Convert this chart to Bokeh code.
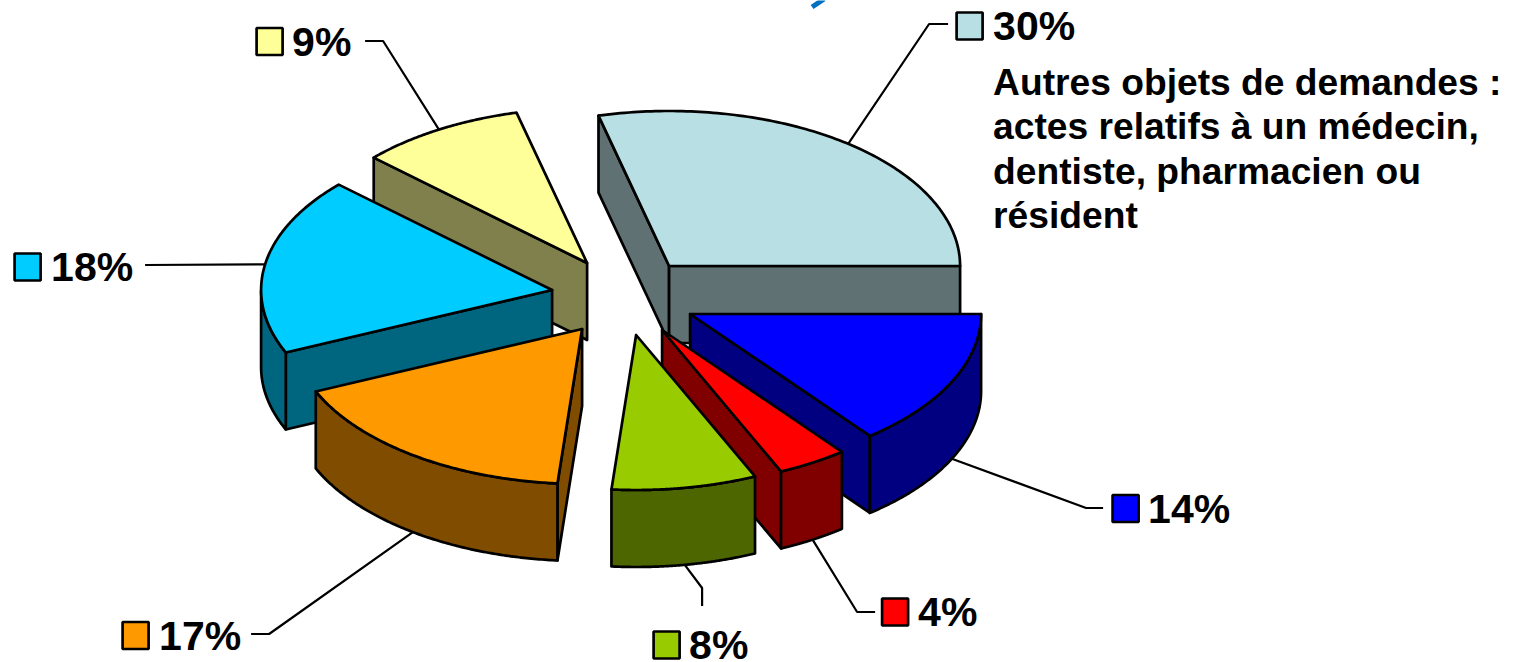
import numpy as np
from bokeh.plotting import figure
from bokeh.models import Range1d
from bokeh.core.properties import value
from bokeh.embed import file_html
from bokeh.resources import INLINE

# --- data (order: clockwise from the east edge, beginning with the 14% slice) ---
labels = ["14%", "4%", "8%", "17%", "18%", "9%", "30%"]
shares = [14.4, 3.9, 8.05, 17.05, 18.5, 9.2, 28.9]
top_colors = ["#0000FF", "#FF0000", "#99CC00", "#FF9900", "#00CCFF", "#FFFF99", "#B8DFE3"]
side_colors = ["#000080", "#800000", "#4D6600", "#804D00", "#006680", "#80804D", "#5F7173"]
note_lines = ["Autres objets de demandes :", "actes relatifs à un médecin,",
              "dentiste, pharmacien ou", "résident"]

# --- layout (pixels in the picture) ---
W, H = 1517, 662
RX, RY, DEPTH = 291, 155, 77
apex = [(690, 314), (662, 330), (636, 335), (582, 329), (552, 290), (587, 263), (669, 266)]
swatch = [(1125.5, 508.5), (895, 612), (666.5, 645), (135.5, 635.5), (27.5, 267), (269.5, 41.5), (969.5, 26)]
text_x = [1148, 918, 689, 159, 51, 292, 993]
elbow = [[(1086, 508), (1103, 508)], [(857, 612), (875, 612)], [(702, 588), (702, 606)],
         [(269, 634), (251, 634)], [(145, 265)], [(383, 41), (365, 41)], [(929, 24), (948, 24)]]
paint_order = [6, 5, 4, 3, 0, 1, 2]
LW = 2.7
INK = "#000000"

p = figure(width=W, height=H, x_range=Range1d(0.4, W + 0.4), y_range=Range1d(H + 0.5, 0.5),
           output_backend="svg", toolbar_location=None, min_border=0,
           outline_line_color=None, border_fill_color="white", background_fill_color="white")
p.axis.visible = False
p.grid.visible = False
p.styles = {"position": "absolute", "left": "0px", "top": "0px"}

# slice boundaries, in degrees, going clockwise from east
ends = -np.cumsum(shares) * 3.6
starts = np.concatenate([[0.0], ends[:-1]])


def rim(cx, cy, t):
    r = np.radians(t)
    return cx + RX * np.cos(r), cy - RY * np.sin(r)


def leader_start(i):
    mid = (starts[i] + ends[i]) / 2
    x, y = rim(*apex[i], mid)
    return x, y + (DEPTH if np.sin(np.radians(mid)) < -0.05 else 0)


# leaders go beneath the pie
for i in range(len(labels)):
    x0, y0 = leader_start(i)
    xs = [x0] + [e[0] for e in elbow[i]]
    ys = [y0] + [e[1] for e in elbow[i]]
    p.line(xs, ys, line_color=INK, line_width=2.2)

for i in paint_order:
    cx, cy = apex[i]
    t_cw, t_ccw = ends[i], starts[i]
    side = dict(fill_color=side_colors[i], line_color=INK, line_width=LW, line_join="round")
    # radial walls facing the viewer
    for t, visible in ((t_ccw, np.cos(np.radians(t_ccw)) < 0), (t_cw, np.cos(np.radians(t_cw)) > 0)):
        if visible:
            x, y = rim(cx, cy, t)
            p.patch([cx, x, x, cx], [cy, y, y + DEPTH, cy + DEPTH], **side)
    # outer rim: the part of the arc in the near half of the ellipse
    ts = np.linspace(t_cw, t_ccw, 120)
    near = ts[np.sin(np.radians(ts)) <= 0]
    if len(near) > 1:
        x, y = rim(cx, cy, near)
        p.patch(np.concatenate([x, x[::-1]]), np.concatenate([y, (y + DEPTH)[::-1]]), **side)
    # top face
    x, y = rim(cx, cy, ts)
    p.patch(np.concatenate([[cx], x]), np.concatenate([[cy], y]),
            fill_color=top_colors[i], line_color=INK, line_width=LW, line_join="round")

# legend keys and labels
for i, lab in enumerate(labels):
    sx, sy = swatch[i]
    p.rect([sx], [sy], width=26, height=27, fill_color=top_colors[i], line_color=INK, line_width=LW)
    p.text([text_x[i]], [sy], text=[lab], text_font=value("Liberation Sans"), text_font_style="bold",
           text_font_size="41px", text_color=INK, text_baseline="middle", text_align="left")

note_y = [82, 126, 170.5, 215]
p.text([993] * 4, note_y, text=note_lines, text_font=value("Liberation Sans"), text_font_style="bold",
       text_font_size="37.2px", text_color=INK, text_baseline="middle", text_align="left")

# fragment of a blue stroke entering from the top edge
p.line([812, 824], [7, -1], line_color="#0070C0", line_width=5)

open("out.html", "w").write(file_html(p, INLINE))
